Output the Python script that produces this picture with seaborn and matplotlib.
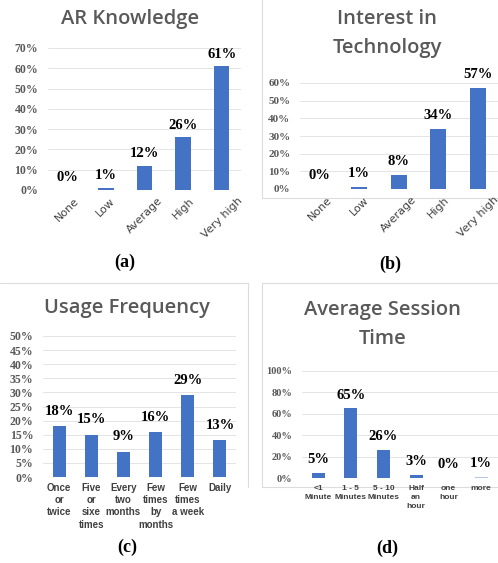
import matplotlib
matplotlib.use("Agg")
import matplotlib.pyplot as plt
import seaborn as sns
from matplotlib.ticker import FuncFormatter, MultipleLocator

# ---------------- data ----------------
a_title = "AR Knowledge"
a_cats = ["None", "Low", "Average", "High", "Very high"]
a_vals = [0, 1, 12, 26, 61]

b_title = "Interest in\nTechnology"
b_cats = ["None", "Low", "Average", "High", "Very high"]
b_vals = [0, 1, 8, 34, 57]

c_title = "Usage Frequency"
c_cats = ["Once\nor\ntwice", "Five\nor\nsixe\ntimes", "Every\ntwo\nmonths",
          "Few\ntimes\nby\nmonths", "Few\ntimes\na week", "Daily"]
c_vals = [18, 15, 9, 16, 29, 13]

d_title = "Average Session\nTime"
d_cats = ["<1\nMinute", "1 - 5\nMinutes", "5 - 10\nMinutes", "Half\nan\nhour",
          "one\nhour", "more"]
d_vals = [5, 65, 26, 3, 0, 1]

captions = ["(a)", "(b)", "(c)", "(d)"]

# ---------------- style ----------------
sns.set_style("white")
plt.rcParams['font.family'] = ['DejaVu Sans']

W, H = 498, 563
fig = plt.figure(figsize=(W / 100, H / 100), dpi=100)
fig.patch.set_facecolor("white")

BLUE = "#4472C4"
LIGHT = "#B4C7E7"
GRID = "#E4E4E4"
TITLE_C = "#595959"
TICK_C = "#595959"
XL_C = "#404040"

# background axes in pixel coordinates (for titles, captions, chart borders)
bg = fig.add_axes([0, 0, 1, 1])
bg.set_xlim(0, W)
bg.set_ylim(H, 0)
bg.axis("off")
border = dict(color="#DCDCDC", lw=0.8)
# chart (b) border
bg.plot([262, 262], [0, 198], **border)
bg.plot([262, W], [198, 198], **border)
# chart (c) border
bg.plot([0, 248], [283, 283], **border)
bg.plot([248, 248], [283, 487], **border)
# chart (d) border
bg.plot([262, W], [283, 283], **border)
bg.plot([262, 262], [283, 487], **border)
bg.plot([262, W], [487, 487], **border)


def add_ax(left, right, top, bottom):
    return fig.add_axes([left / W, 1 - bottom / H, (right - left) / W, (bottom - top) / H])


def panel(ax, cats, vals, ymax, ystep, colors, xfont, rot, label_off, ytick_size):
    sns.barplot(x=cats, y=vals, hue=cats, order=cats, hue_order=cats,
                palette=colors, legend=False, width=0.4, ax=ax,
                saturation=1, edgecolor="none")
    ax.set_ylim(0, ymax)
    ax.set_xlim(-0.5, len(cats) - 0.5)
    ax.yaxis.set_major_locator(MultipleLocator(ystep))
    ax.yaxis.set_major_formatter(FuncFormatter(lambda v, p: f"{int(round(v))}%"))
    ax.grid(axis="y", color=GRID, lw=0.7)
    ax.set_axisbelow(True)
    for s in ax.spines.values():
        s.set_visible(False)
    ax.tick_params(axis="both", length=0)
    ax.tick_params(axis="y", pad=7)
    ax.set_xlabel("")
    ax.set_ylabel("")
    for lab in ax.get_yticklabels():
        lab.set_fontfamily("Liberation Serif")
        lab.set_fontweight("bold")
        lab.set_fontsize(ytick_size)
        lab.set_color(TICK_C)
    for lab in ax.get_xticklabels():
        lab.set_fontfamily(xfont["family"])
        lab.set_fontweight(xfont["weight"])
        lab.set_fontsize(xfont["size"])
        lab.set_color(XL_C)
        lab.set_linespacing(xfont.get("ls", 1.2))
        if rot:
            lab.set_rotation(45)
            lab.set_ha("center")
            lab.set_va("top")
    ax.tick_params(axis="x", pad=xfont.get("pad", 3))
    for i, v in enumerate(vals):
        ax.annotate(f"{v}%", (i, v), xytext=(0, label_off), textcoords="offset points",
                    ha="center", va="bottom", fontfamily="Liberation Serif",
                    fontweight="bold", fontsize=10.5, color="black")


title_kw = dict(fontfamily="Open Sans", fontweight="semibold", fontsize=14.5,
                color=TITLE_C, ha="center", va="center", linespacing=1.6)
cap_kw = dict(fontfamily="Liberation Serif", fontweight="bold", fontsize=13,
              color="black", ha="center", va="center")

rot_font = dict(family="DejaVu Sans", weight="normal", size=8, pad=4)
font_c = dict(family="Liberation Sans", weight="bold", size=7, ls=1.3, pad=4)
font_d = dict(family="Liberation Sans", weight="bold", size=6, ls=1.4, pad=5)

# (a)
ax_a = add_ax(48, 241, 48, 190)
panel(ax_a, a_cats, a_vals, 70, 10, [BLUE] * 5, rot_font, True, 4, 8.5)
bg.text(130, 19, a_title, **title_kw)
bg.text(125, 262, captions[0], **cap_kw)

# (b)
ax_b = add_ax(300, 497.5, 83, 189)
panel(ax_b, b_cats, b_vals, 60, 10, [BLUE] * 5, rot_font, True, 5, 8)
bg.text(387, 33, b_title, **title_kw)
bg.text(390, 264, captions[1], **cap_kw)

# (c)
ax_c = add_ax(43, 236, 336, 477)
panel(ax_c, c_cats, c_vals, 50, 5, [BLUE] * 6, font_c, False, 6, 8.5)
bg.text(127, 308, c_title, **title_kw)
bg.text(127, 547, captions[2], **cap_kw)

# (d)
ax_d = add_ax(302, 497.5, 371, 478)
panel(ax_d, d_cats, d_vals, 100, 20, [BLUE] * 5 + [LIGHT], font_d, False, 5, 7.5)
bg.text(383, 325, d_title, **title_kw)
bg.text(387, 548, captions[3], **cap_kw)

fig.savefig("out.png", dpi=100)
